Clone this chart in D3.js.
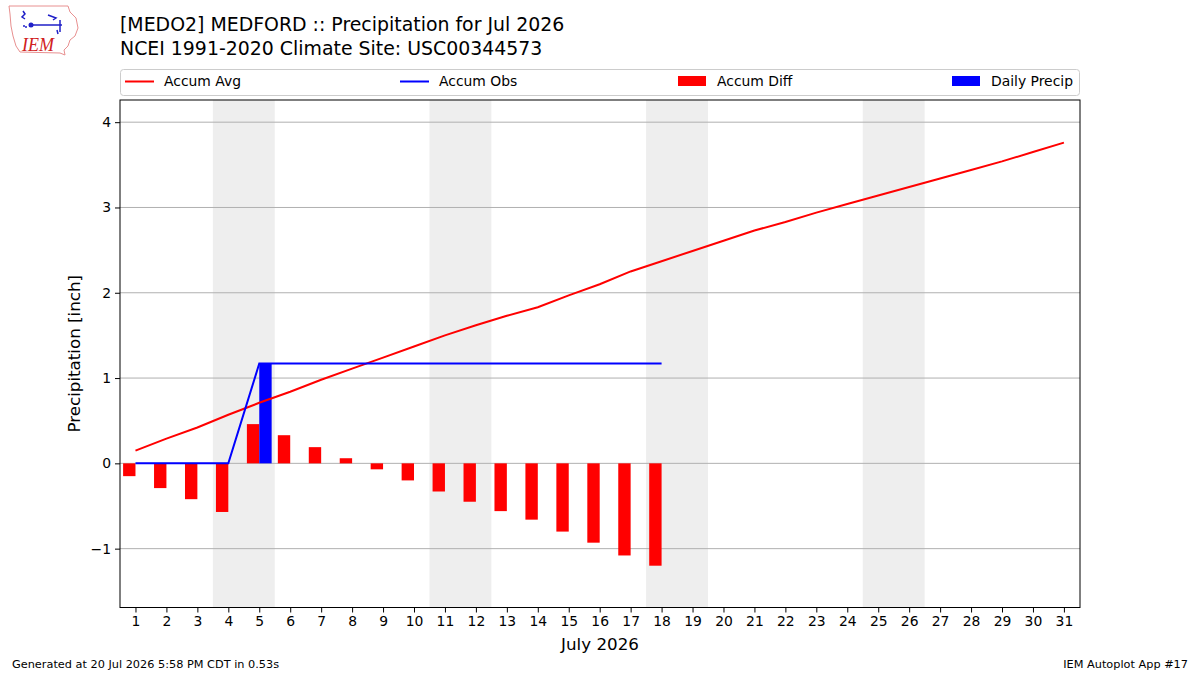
<!DOCTYPE html>
<html><head><meta charset="utf-8">
<script src="https://cdn.jsdelivr.net/npm/d3@7"></script>
<style>body{margin:0;background:#fff}svg{display:block;font-family:"DejaVu Sans",sans-serif}</style>
</head><body><svg id="c" width="1200" height="675"></svg>
<script>
const days = d3.range(1, 32);
const accumAvg = [0.15,0.29,0.42,0.57,0.71,0.84,0.98,1.11,1.24,1.37,1.50,1.62,1.73,1.83,1.97,2.10,2.25,2.37,2.49,2.61,2.73,2.83,2.94,3.04,3.14,3.24,3.34,3.44,3.54,3.65,3.76];
const obsDays = d3.range(1, 19);
const dailyPrecip = [0,0,0,0,1.17,0,0,0,0,0,0,0,0,0,0,0,0,0];
const accumObs = [0,0,0,0,1.17,1.17,1.17,1.17,1.17,1.17,1.17,1.17,1.17,1.17,1.17,1.17,1.17,1.17];
const weekends = [[4,5],[11,12],[18,19],[25,26]];
const yTicks = [-1,0,1,2,3,4];
const legendLabels = ["Accum Avg","Accum Obs","Accum Diff","Daily Precip"];

const svg = d3.select("#c");
const L = 120, R = 1080, T = 100, B = 607.5;
const x = d3.scaleLinear().domain([0.5, 31.52]).range([L, R]);
const y = d3.scaleLinear().domain([-1.69, 4.26]).range([B, T]);

// weekend spans
svg.append("g").selectAll("rect").data(weekends).join("rect")
  .attr("x", d => x(d[0] - 0.5)).attr("width", d => x(d[1] + 0.5) - x(d[0] - 0.5))
  .attr("y", T).attr("height", B - T).attr("fill", "#eeeeee");

// grid
svg.append("g").selectAll("line").data(yTicks).join("line")
  .attr("x1", L).attr("x2", R).attr("y1", d => y(d)).attr("y2", d => y(d))
  .attr("stroke", "#b0b0b0").attr("stroke-width", 1);

// diff bars
const diff = obsDays.map((d, i) => ({d, v: accumObs[i] - accumAvg[i]}));
svg.append("g").selectAll("rect").data(diff).join("rect")
  .attr("x", d => x(d.d - 0.4)).attr("width", x(0.9) - x(0.5))
  .attr("y", d => y(Math.max(0, d.v))).attr("height", d => Math.abs(y(d.v) - y(0)))
  .attr("fill", "#ff0000");

// daily precip bars
svg.append("g").selectAll("rect").data(obsDays.map((d, i) => ({d, v: dailyPrecip[i]})).filter(e => e.v > 0)).join("rect")
  .attr("x", d => x(d.d)).attr("width", x(0.9) - x(0.5))
  .attr("y", d => y(d.v)).attr("height", d => y(0) - y(d.v))
  .attr("fill", "#0000ff");

// lines
const line = d3.line().x(d => x(d[0])).y(d => y(d[1]));
svg.append("path").datum(days.map((d, i) => [d, accumAvg[i]])).attr("d", line)
  .attr("fill", "none").attr("stroke", "#ff0000").attr("stroke-width", 2);
svg.append("path").datum(obsDays.map((d, i) => [d, accumObs[i]])).attr("d", line)
  .attr("fill", "none").attr("stroke", "#0000ff").attr("stroke-width", 2);

// frame
svg.append("rect").attr("x", L).attr("y", T).attr("width", R - L).attr("height", B - T)
  .attr("fill", "none").attr("stroke", "#000").attr("stroke-width", 1);

// axes
const xAxis = svg.append("g").attr("transform", `translate(0,${B})`)
  .call(d3.axisBottom(x).tickValues(days).tickFormat(d3.format("d")).tickSize(5).tickPadding(4));
const yAxis = svg.append("g").attr("transform", `translate(${L},0)`)
  .call(d3.axisLeft(y).tickValues(yTicks).tickFormat(d => d < 0 ? "\u2212" + Math.abs(d) : d).tickSize(5).tickPadding(4));
[xAxis, yAxis].forEach(a => {
  a.select(".domain").remove();
  a.selectAll("text").attr("font-size", 13.9).attr("font-family", "DejaVu Sans").attr("fill", "#000");
  a.selectAll("line").attr("stroke", "#000");
});

svg.append("text").attr("x", (L + R) / 2).attr("y", 650).attr("text-anchor", "middle")
  .attr("font-size", 16.7).text("July 2026");
svg.append("text").attr("transform", `translate(80,${(T + B) / 2}) rotate(-90)`).attr("text-anchor", "middle")
  .attr("font-size", 16.7).text("Precipitation [inch]");

// title
svg.append("text").attr("x", 120).attr("y", 31).attr("font-size", 18.9)
  .text("[MEDO2] MEDFORD :: Precipitation for Jul 2026");
svg.append("text").attr("x", 120).attr("y", 54.5).attr("font-size", 18.9)
  .text("NCEI 1991-2020 Climate Site: USC00344573");

// legend
const lg = svg.append("g");
lg.append("rect").attr("x", 120.5).attr("y", 69.5).attr("width", 959).attr("height", 26).attr("rx", 3)
  .attr("fill", "#fff").attr("stroke", "#cccccc");
const lx = [125, 400, 678, 952];
legendLabels.forEach((t, i) => {
  const gx = lx[i];
  if (i < 2) {
    lg.append("line").attr("x1", gx).attr("x2", gx + 29).attr("y1", 81.5).attr("y2", 81.5)
      .attr("stroke", i === 0 ? "#ff0000" : "#0000ff").attr("stroke-width", 2);
  } else {
    lg.append("rect").attr("x", gx).attr("y", 76).attr("width", 28).attr("height", 10)
      .attr("fill", i === 2 ? "#ff0000" : "#0000ff");
  }
  lg.append("text").attr("x", gx + 39).attr("y", 86).attr("font-size", 13.9).text(t);
});

// footer
svg.append("text").attr("x", 12).attr("y", 668).attr("font-size", 11.3).text("Generated at 20 Jul 2026 5:58 PM CDT in 0.53s");
svg.append("text").attr("x", 1188).attr("y", 668).attr("text-anchor", "end").attr("font-size", 11.3).text("IEM Autoplot App #17");

// logo
const lo = svg.append("g");
lo.append("path").attr("d", "M9,6 L68,6 L70,12 L76,18 L78,28 L75,36 L70,40 L68,46 L64,50 L65,55 L60,53 L20,52 L16,46 L13,36 L11,26 L10,14 Z")
  .attr("fill", "#fff").attr("stroke", "#e89090").attr("stroke-width", 1);
lo.append("path").attr("d", "M23,11 L25,14 L22,17 L25,19 M31,25 L62,25 M48,15 L56,18 L53,20 M60,20 L60,32 M57,30 L58,34")
  .attr("fill", "none").attr("stroke", "#2020c8").attr("stroke-width", 1.5);
lo.append("circle").attr("cx", 31).attr("cy", 25).attr("r", 2.5).attr("fill", "#2020c8");
lo.append("circle").attr("cx", 24).attr("cy", 26).attr("r", 1).attr("fill", "#2020c8");
lo.append("circle").attr("cx", 26).attr("cy", 27).attr("r", 1).attr("fill", "#2020c8");
lo.append("text").attr("x", 22).attr("y", 51).attr("font-family", "Liberation Serif").attr("font-style", "italic")
  .attr("font-size", 18).attr("fill", "#d02020").text("IEM");
</script></body></html>
